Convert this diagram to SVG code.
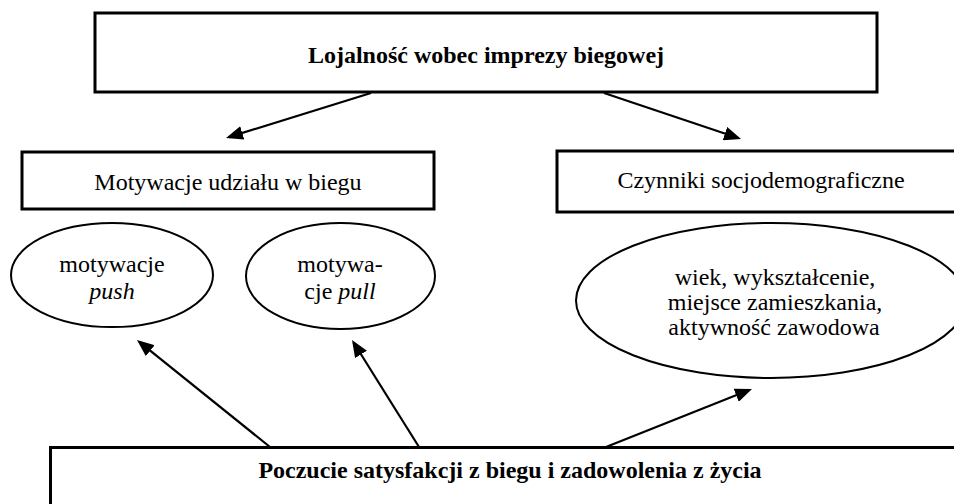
<svg xmlns="http://www.w3.org/2000/svg" width="954" height="504" viewBox="0 0 954 504">
<style>
.box{fill:#fff;stroke:#000;stroke-width:3}
.ell{fill:#fff;stroke:#000;stroke-width:2}
.t{font-family:"Liberation Serif","Times New Roman",serif;font-size:24px;fill:#000;text-anchor:middle}
.b{font-weight:bold}
.i{font-style:italic}
.c{stroke:#000;stroke-width:2.2;fill:none;marker-end:url(#ah)}
</style>
<defs>
<marker id="ah" markerUnits="userSpaceOnUse" markerWidth="18" markerHeight="14" refX="14" refY="7" orient="auto">
<path d="M0,0 L17,7 L0,14 z" fill="#000"/>
</marker>
</defs>
<rect width="954" height="504" fill="#fff"/>
<g id="n-lojalnosc">
<rect class="box" x="95" y="13" width="782" height="79"/>
<text class="t b" x="486" y="63">Lojalność wobec imprezy biegowej</text>
</g>
<g id="n-motywacje">
<rect class="box" x="22" y="152" width="412" height="57"/>
<text class="t" x="228" y="190">Motywacje udziału w biegu</text>
</g>
<g id="n-czynniki">
<rect class="box" x="557" y="151" width="420" height="61"/>
<text class="t" x="761" y="188">Czynniki socjodemograficzne</text>
</g>
<g id="n-push">
<ellipse class="ell" cx="112" cy="275" rx="101" ry="52"/>
<text class="t" x="112" y="272">motywacje</text>
<text class="t i" x="112" y="299">push</text>
</g>
<g id="n-pull">
<ellipse class="ell" cx="340.5" cy="276" rx="94.5" ry="53"/>
<text class="t" x="340" y="272">motywa-</text>
<text class="t" x="340" y="299">cje <tspan class="i">pull</tspan></text>
</g>
<g id="n-socjo">
<ellipse class="ell" cx="771" cy="300.5" rx="195" ry="77.5"/>
<text class="t" x="775" y="285">wiek, wykształcenie,</text>
<text class="t" x="775" y="310">miejsce zamieszkania,</text>
<text class="t" x="774" y="335">aktywność zawodowa</text>
</g>
<g id="n-satysfakcja">
<rect class="box" x="50.5" y="447.5" width="930" height="80"/>
<text class="t b" x="510" y="478">Poczucie satysfakcji z biegu i zadowolenia z życia</text>
</g>
<g id="connectors">
<line class="c" x1="371" y1="93" x2="228.9" y2="137.1"/>
<line class="c" x1="604" y1="93" x2="738.2" y2="138"/>
<line class="c" x1="270" y1="447" x2="139.3" y2="341.9"/>
<line class="c" x1="419" y1="447" x2="353.6" y2="342.5"/>
<line class="c" x1="606" y1="447" x2="749.2" y2="390.1"/>
</g>
</svg>
